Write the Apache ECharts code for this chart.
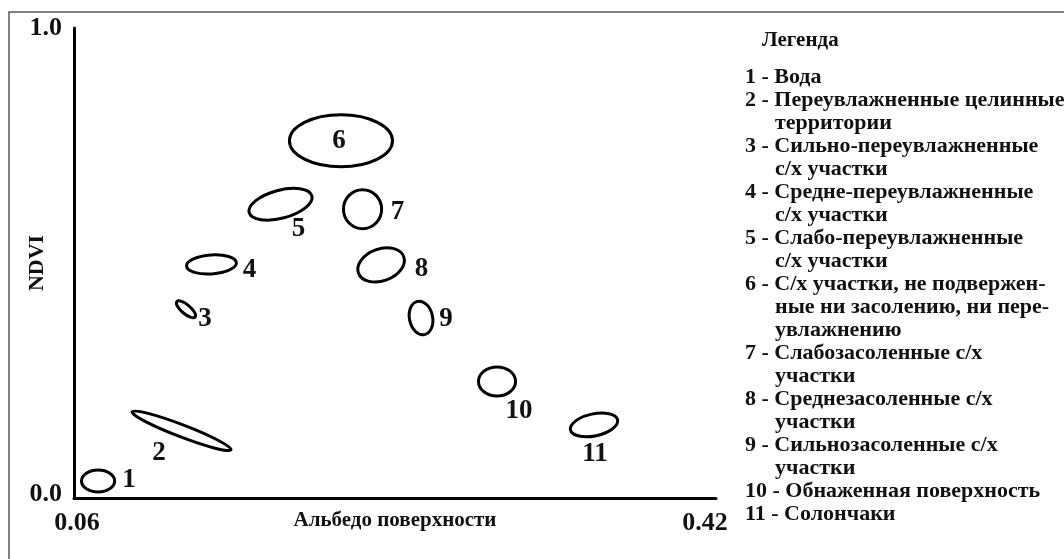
<!DOCTYPE html>
<html>
<head>
<meta charset="utf-8">
<script src="https://cdn.jsdelivr.net/npm/echarts@6/dist/echarts.min.js"></script>
<style>
  html, body { margin: 0; padding: 0; background: #fff; }
  #chart { width: 1064px; height: 559px; }
</style>
</head>
<body>
<div id="chart"></div>
<script>
// ---- data ----
const clusterIds   = ['1', '2', '3', '4', '5', '6', '7', '8', '9', '10', '11'];
const centerAlbedo = [0.0735, 0.1203, 0.1228, 0.1371, 0.1758, 0.2097, 0.2218, 0.2322, 0.2546, 0.2972, 0.3516];
const centerNDVI   = [0.036, 0.143, 0.4015, 0.497, 0.625, 0.760, 0.6145, 0.496, 0.383, 0.248, 0.1555];
const halfAlbedo   = [0.0093, 0.0297, 0.0067, 0.0140, 0.0182, 0.0289, 0.0107, 0.0135, 0.0065, 0.0104, 0.0135];
const halfNDVI     = [0.0234, 0.0128, 0.0096, 0.0202, 0.0298, 0.0554, 0.0415, 0.0341, 0.0362, 0.0309, 0.0234];
const tiltDeg      = [0, -21, -40, 4, 15, 0, 0, 20, 12, 0, 12];
const labelAlbedo  = [0.0908, 0.1077, 0.1335, 0.1584, 0.1859, 0.2086, 0.2414, 0.2549, 0.2686, 0.3095, 0.3522];
const labelNDVI    = [0.038, 0.096, 0.380, 0.4856, 0.572, 0.760, 0.608, 0.4867, 0.380, 0.185, 0.094];

const xTickValues = [0.06, 0.42];
const xTickLabels = ['0.06', '0.42'];
const yTickValues = [0.0, 1.0];
const yTickLabels = ['0.0', '1.0'];
const xAxisName = 'Альбедо поверхности';
const yAxisName = 'NDVI';

const legendTitle = 'Легенда';
const legendItems = [
  ['Вода'],
  ['Переувлажненные целинные', 'территории'],
  ['Сильно-переувлажненные', 'с/х участки'],
  ['Средне-переувлажненные', 'с/х участки'],
  ['Слабо-переувлажненные', 'с/х участки'],
  ['С/х участки, не подвержен-', 'ные ни засолению, ни пере-', 'увлажнению'],
  ['Слабозасоленные с/х', 'участки'],
  ['Среднезасоленные с/х', 'участки'],
  ['Сильнозасоленные с/х', 'участки'],
  ['Обнаженная поверхность'],
  ['Солончаки']
];

// ---- build ----
const FONT = '"Liberation Serif", "Times New Roman", serif';
const ellipseData = clusterIds.map((id, i) => [centerAlbedo[i], centerNDVI[i], halfAlbedo[i], halfNDVI[i], tiltDeg[i]]);
const labelData = clusterIds.map((id, i) => [labelAlbedo[i], labelNDVI[i], id]);

const graphics = [{
  type: 'rect', z: -10, silent: true,
  shape: { x: 9, y: 12, width: 1100, height: 600 },
  style: { fill: 'none', stroke: '#555', lineWidth: 1.5 }
}, {
  type: 'text', x: 762, y: 41,
  style: { text: legendTitle, fontFamily: FONT, fontWeight: 'bold', fontSize: 21, fill: '#111', verticalAlign: 'middle' }
}];
let row = 0;
legendItems.forEach((lines, i) => {
  lines.forEach((ln, j) => {
    graphics.push({
      type: 'text', x: j === 0 ? 745 : 775, y: 77 + row * 23,
      style: { text: j === 0 ? (i + 1) + ' - ' + ln : ln, fontFamily: FONT, fontWeight: 'bold', fontSize: 22, fill: '#111', verticalAlign: 'middle' }
    });
    row++;
  });
});

const near = (a, b) => Math.abs(a - b) < 1e-9;

const option = {
  backgroundColor: '#fff',
  animation: false,
  grid: { left: 74, right: 348, top: 28, bottom: 61, containLabel: false, outerBoundsMode: 'none' },
  xAxis: {
    type: 'value', min: xTickValues[0], max: xTickValues[1], interval: 0.06,
    name: xAxisName, nameLocation: 'middle', nameGap: 12, nameMoveOverlap: false,
    nameTextStyle: { fontFamily: FONT, fontWeight: 'bold', fontSize: 21, color: '#111' },
    axisLine: { lineStyle: { color: '#000', width: 3 } },
    axisTick: { show: false }, splitLine: { show: false },
    axisLabel: {
      margin: 12, showMinLabel: true, showMaxLabel: true,
      formatter: v => near(v, xTickValues[0]) ? '{lo|' + xTickLabels[0] + '}' : (near(v, xTickValues[1]) ? '{hi|' + xTickLabels[1] + '}' : ''),
      rich: {
        lo: { fontFamily: FONT, fontWeight: 'bold', fontSize: 26, color: '#111', padding: [0, 0, 0, 6] },
        hi: { fontFamily: FONT, fontWeight: 'bold', fontSize: 26, color: '#111', padding: [0, 22, 0, 0] }
      }
    }
  },
  yAxis: {
    type: 'value', min: yTickValues[0], max: yTickValues[1], interval: 1,
    name: yAxisName, nameLocation: 'middle', nameGap: 26, nameRotate: 90, nameMoveOverlap: false,
    nameTextStyle: { fontFamily: FONT, fontWeight: 'bold', fontSize: 22, color: '#111' },
    axisLine: { lineStyle: { color: '#000', width: 3 } },
    axisTick: { show: false }, splitLine: { show: false },
    axisLabel: {
      margin: 12,
      formatter: v => near(v, yTickValues[0]) ? '{lo|' + yTickLabels[0] + '}' : '{hi|' + yTickLabels[1] + '}',
      rich: {
        lo: { fontFamily: FONT, fontWeight: 'bold', fontSize: 26, color: '#111', padding: [0, 0, 8, 0] },
        hi: { fontFamily: FONT, fontWeight: 'bold', fontSize: 26, color: '#111', padding: [0, 0, 0, 0] }
      }
    }
  },
  graphic: graphics,
  series: [{
    type: 'custom',
    data: ellipseData,
    renderItem: (params, api) => {
      const c = api.coord([api.value(0), api.value(1)]);
      const rx = api.size([api.value(2), 0])[0];
      const ry = api.size([0, api.value(3)])[1];
      return {
        type: 'ellipse',
        x: c[0], y: c[1],
        rotation: api.value(4) * Math.PI / 180,
        shape: { cx: 0, cy: 0, rx: rx, ry: ry },
        style: { fill: 'none', stroke: '#000', lineWidth: 3 }
      };
    }
  }, {
    type: 'custom',
    data: labelData,
    dimensions: ['x', 'y', { name: 'id', type: 'ordinal' }],
    renderItem: (params, api) => {
      const c = api.coord([api.value(0), api.value(1)]);
      return {
        type: 'text',
        x: c[0], y: c[1],
        style: {
          text: clusterIds[params.dataIndex],
          fontFamily: FONT, fontWeight: 'bold', fontSize: 27, fill: '#111',
          align: 'center', verticalAlign: 'middle'
        }
      };
    }
  }]
};

const chart = echarts.init(document.getElementById('chart'), null, { renderer: 'canvas' });
chart.setOption(option);
</script>
</body>
</html>
